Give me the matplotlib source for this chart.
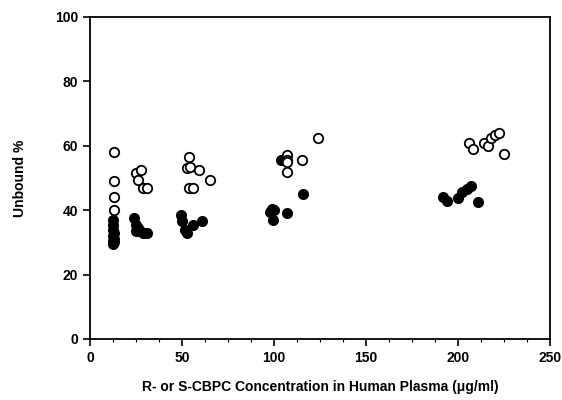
import numpy as np
import matplotlib
matplotlib.use('Agg')
import matplotlib.pyplot as plt

plt.rcParams['font.family'] = ['Liberation Sans', 'DejaVu Sans']

# unbound % (open = one enantiomer, filled = other)
open_x = [13, 13, 13, 13,
          25, 28, 26, 29, 31,
          54, 53, 54.5, 59, 65, 54, 56,
          107, 107, 107, 115, 124, 107,
          206, 208, 214, 216, 218, 220, 222, 225]
open_y = [58, 49, 44, 40,
          51.5, 52.5, 49.5, 47, 47,
          56.5, 53, 53.5, 52.5, 49.5, 47, 47,
          57, 55.5, 52, 55.5, 62.5, 55,
          61, 59, 61, 60, 62.5, 63.2, 64, 57.5]
filled_x = [12.5, 12.5, 12.5, 13, 12.5, 13, 12.5, 13, 12.5,
            24, 25, 26, 27, 29, 31, 25,
            49.5, 50, 51.5, 52.5, 56, 61,
            99, 100, 98, 99.5, 107, 116, 104,
            192, 194, 200, 202, 205, 207, 211]
filled_y = [37, 35.5, 34, 33, 32, 31, 30.5, 30, 29.5,
            37.5, 35.5, 34.5, 33.5, 33, 33, 33.5,
            38.5, 36.5, 34, 33, 35.5, 36.5,
            40.5, 40, 39.3, 37, 39, 45, 55.5,
            44, 42.8, 43.8, 45.5, 46.5, 47.5, 42.7]

fig = plt.figure(figsize=(5.62, 4), dpi=100)
ax = fig.add_axes([0.16, 0.1525, 0.819, 0.805])

ax.scatter(filled_x, filled_y, s=46, facecolor='black', edgecolor='black', linewidth=1.2, zorder=2)
ax.scatter(open_x, open_y, s=46, facecolor='white', edgecolor='black', linewidth=1.3, zorder=3)

ax.set_xlim(0, 250)
ax.set_ylim(0, 100)
ax.set_xticks(np.arange(0, 251, 50))
ax.set_yticks(np.arange(0, 101, 20))
ax.set_xticks(np.arange(0, 251, 12.5), minor=True)
ax.tick_params(axis='both', direction='out', length=5, width=1.2, labelsize=10)
ax.tick_params(axis='x', which='minor', length=2, width=0.8)
for lab in ax.get_xticklabels() + ax.get_yticklabels():
    lab.set_fontweight('bold')
for sp in ax.spines.values():
    sp.set_linewidth(1.3)

ax.set_xlabel('R- or S-CBPC Concentration in Human Plasma (\u03bcg/ml)', fontsize=10, fontweight='bold', labelpad=11)
ax.set_ylabel('Unbound %', fontsize=10, fontweight='bold', labelpad=20)

fig.savefig('out.png', dpi=100)
